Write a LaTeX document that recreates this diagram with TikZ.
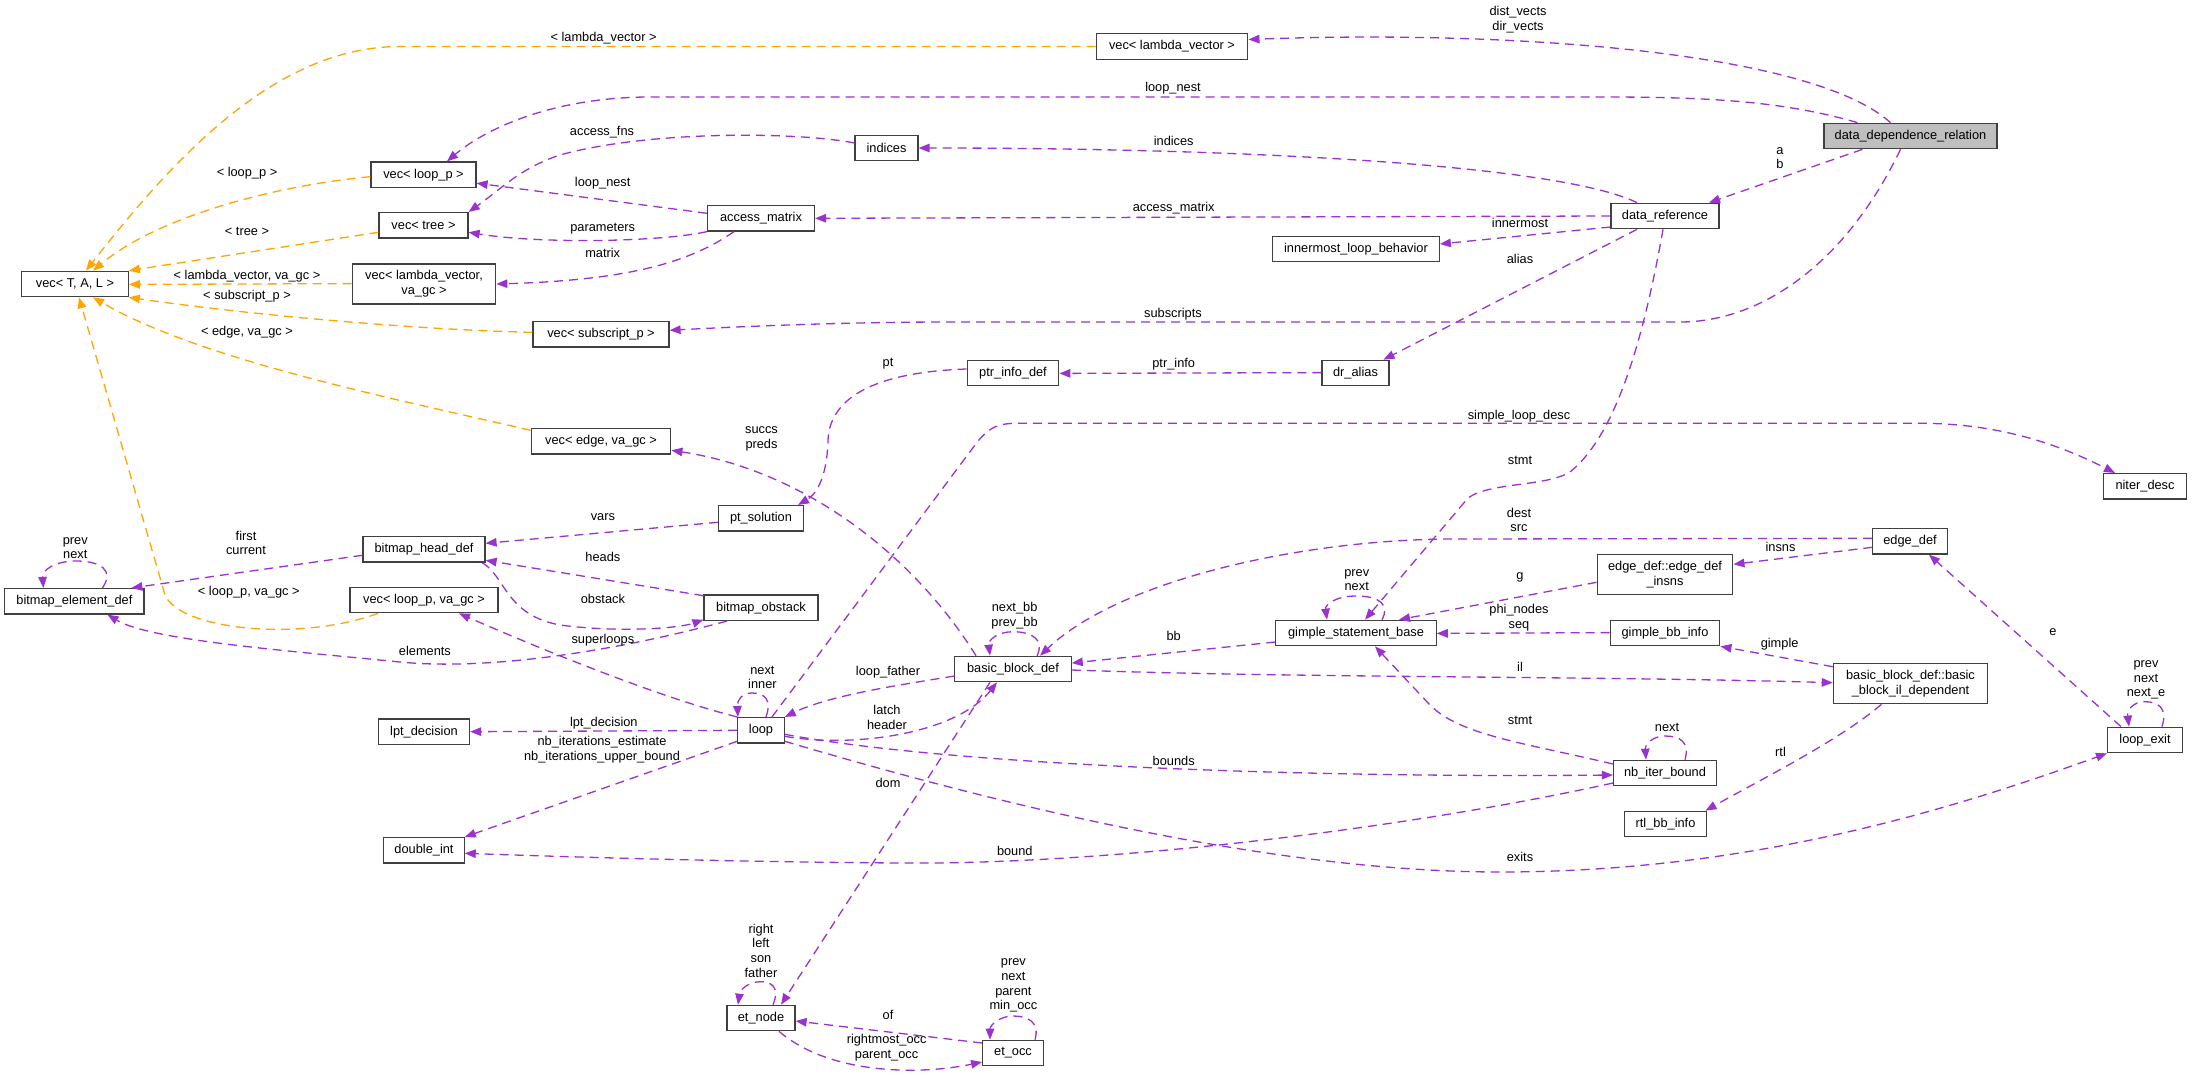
\documentclass[tikz,border=0pt]{standalone}
\usepackage{fontspec}
\setmainfont{Liberation Sans}
\usetikzlibrary{arrows.meta}
\definecolor{purp}{HTML}{9A32CD}
\definecolor{orng}{HTML}{FFA500}
\definecolor{rootgray}{HTML}{BFBFBF}
\newcommand{\gfont}{\fontsize{12.8pt}{14.7pt}\selectfont}
\begin{document}
\begin{tikzpicture}[x=1pt,y=-1pt,
 box/.style={draw=black!75,line width=1.2pt,fill=white,inner sep=0pt,minimum height=25.5pt,font=\gfont,align=center},
 box2/.style={box,minimum height=40pt},
 lab/.style={font=\gfont,inner sep=0pt,align=center},
 pe/.style={draw=purp,color=purp,line width=1.3pt,dash pattern=on 9pt off 6pt,-{Triangle[length=11pt,width=8.5pt]}},
 oe/.style={pe,draw=orng,color=orng}]
\useasboundingbox (0,0) rectangle (2192,1076);
\fill[white] (0,0) rectangle (2192,1076);

% nodes
\node[box,minimum width=106.5pt] (vtal) at (75,284) {vec< T, A, L >};
\node[box,minimum width=105pt] (vlp) at (423.5,174.7) {vec< loop\_p >};
\node[box,minimum width=89pt] (vtree) at (423.5,225.3) {vec< tree >};
\node[box2,minimum width=143.5pt] (vlvv) at (424,284) {vec< lambda\_vector,\\va\_gc >};
\node[box,minimum width=136pt] (vsub) at (601,334.3) {vec< subscript\_p >};
\node[box,minimum width=107pt] (amat) at (761,218.3) {access\_matrix};
\node[box,minimum width=151.7pt] (vlv) at (1172,46.5) {vec< lambda\_vector >};
\node[box,minimum width=63pt] (ind) at (886.5,148) {indices};
\node[box,minimum width=166.5pt] (ilb) at (1356,249) {innermost\_loop\_behavior};
\node[box,minimum width=91.7pt] (pid) at (1013,373) {ptr\_info\_def};
\node[box,minimum width=67pt] (dra) at (1355.5,373) {dr\_alias};
\node[box,fill=rootgray,minimum width=173pt] (ddr) at (1910.5,136) {data\_dependence\_relation};
\node[box,minimum width=108pt] (dref) at (1665,216) {data\_reference};
\node[box,minimum width=139.6pt] (vedge) at (601,441.3) {vec< edge, va\_gc >};
\node[box,minimum width=122pt] (bhd) at (424,549.3) {bitmap\_head\_def};
\node[box,minimum width=139.2pt] (bed) at (74.4,601.3) {bitmap\_element\_def};
\node[box,minimum width=148pt] (vlpvg) at (424,600) {vec< loop\_p, va\_gc >};
\node[box,minimum width=85pt] (pts) at (761,518.3) {pt\_solution};
\node[box,minimum width=114pt] (bob) at (761,607.7) {bitmap\_obstack};
\node[box,minimum width=116.3pt] (bbd) at (1013,669) {basic\_block\_def};
\node[box,minimum width=160.3pt] (gsb) at (1356,633) {gimple\_statement\_base};
\node[box,minimum width=46.4pt] (loop) at (761,730.3) {loop};
\node[box,minimum width=83.5pt] (nid) at (2145,486.3) {niter\_desc};
\node[box,minimum width=74.4pt] (edef) at (1910,541.3) {edge\_def};
\node[box2,minimum width=135.7pt] (edi) at (1665,574.3) {edge\_def::edge\_def\\\_insns};
\node[box,minimum width=109.7pt] (gbi) at (1665,633) {gimple\_bb\_info};
\node[box2,minimum width=154.4pt] (bbild) at (1910.5,683.7) {basic\_block\_def::basic\\\_block\_il\_dependent};
\node[box,minimum width=91pt] (lpt) at (424,731.7) {lpt\_decision};
\node[box,minimum width=80.3pt] (dint) at (424,850.3) {double\_int};
\node[box,minimum width=68pt] (etn) at (761,1018) {et\_node};
\node[box,minimum width=60.7pt] (eto) at (1013,1053) {et\_occ};
\node[box,minimum width=103pt] (nib) at (1665,773) {nb\_iter\_bound};
\node[box,minimum width=82.5pt] (rtl) at (1665.5,824) {rtl\_bb\_info};
\node[box,minimum width=74.8pt] (lex) at (2145,740) {loop\_exit};

% edges
\draw[pe] ([xshift=-20pt]ddr.north) .. controls (1810,50) and (1500,30) .. ([yshift=7pt]vlv.east);
\node[lab] (l1) at (1518,19.5) {dist\_vects\\dir\_vects};

\draw[pe] ([xshift=-53pt]ddr.north) .. controls (1780,100) and (1700,97) .. (1600,97) -- (650,97) .. controls (560,97) and (490,125) .. ([xshift=23.5pt]vlp.north);
\node[lab] (l2) at (1173,88) {loop\_nest};

\draw[pe] ([xshift=-48pt]ddr.south) -- ([xshift=44pt]dref.north);
\node[lab] (l3) at (1780,158) {a\\b};

\draw[pe] ([xshift=-10pt]ddr.south) .. controls (1845,265) and (1760,322) .. (1680,322) -- (950,322) .. controls (850,322) and (750,326) .. ([yshift=4pt]vsub.east);
\node[lab] (l4) at (1173,314.3) {subscripts};

\draw[pe] ([xshift=-28pt]dref.north) .. controls (1560,165) and (1250,148) .. (ind.east);
\node[lab] (l5) at (1173.7,140.7) {indices};

\draw[pe] (dref.west) -- (amat.east);
\node[lab] (l6) at (1173.7,207.7) {access\_matrix};

\draw[pe] ([yshift=-11pt]dref.west) -- ([yshift=5pt]ilb.east);
\node[lab] (l7) at (1520,223.3) {innermost};

\draw[pe] ([xshift=-28pt]dref.south) -- ([xshift=28pt]dra.north);
\node[lab] (l8) at (1520,258.7) {alias};

\draw[pe] ([xshift=-2pt]dref.south) .. controls (1640,360) and (1610,440) .. (1570,472) .. controls (1545,487) and (1490,482) .. (1468,498) -- ([xshift=9pt]gsb.north);
\node[lab] (l9) at (1520,460) {stmt};

\draw[pe] ([yshift=5pt]ind.west) .. controls (800,132) and (650,130) .. (560,155) .. controls (520,168) and (500,190) .. (vtree.north east);
\node[lab] (l10) at (602,131.7) {access\_fns};

\draw[pe] ([yshift=5pt]amat.west) -- ([yshift=-8.5pt]vlp.east);
\node[lab] (l11) at (602.7,183.3) {loop\_nest};

\draw[pe] (amat.south west) .. controls (660,242) and (540,244) .. ([yshift=-7pt]vtree.east);
\node[lab] (l12) at (602.7,229) {parameters};

\draw[pe] ([xshift=-27pt]amat.south) .. controls (690,262) and (630,280) .. (vlvv.east);
\node[lab] (l13) at (602.7,252.7) {matrix};

\draw[oe] (vlv.west) -- (400,46.5) .. controls (280,46.5) and (180,150) .. ([xshift=11pt]vtal.north);
\node[lab] (l14) at (603.6,38) {< lambda\_vector >};

\draw[oe] ([yshift=-2pt]vlp.west) .. controls (280,185) and (160,215) .. ([xshift=18pt]vtal.north);
\node[lab] (l15) at (247,173.3) {< loop\_p >};

\draw[oe] ([yshift=-7pt]vtree.west) -- (vtal.north east);
\node[lab] (l16) at (247,231) {< tree >};

\draw[oe] ([yshift=0.4pt]vlvv.west) -- ([yshift=-0.4pt]vtal.east);
\node[lab] (l17) at (247,276) {< lambda\_vector, va\_gc >};

\draw[oe] ([yshift=2pt]vsub.west) .. controls (420,330) and (250,315) .. (vtal.south east);
\node[lab] (l18) at (247,296) {< subscript\_p >};

\draw[oe] ([yshift=11pt]vedge.west) .. controls (400,400) and (200,360) .. ([xshift=18pt]vtal.south);
\node[lab] (l19) at (247,332.3) {< edge, va\_gc >};

\draw[oe] ([xshift=-46pt]vlpvg.south) .. controls (300,642) and (180,630) .. (165,595) -- ([xshift=4pt]vtal.south);
\node[lab] (l20) at (248.8,592.3) {< loop\_p, va\_gc >};

\draw[pe] ([yshift=4pt]pid.west) .. controls (880,372) and (830,395) .. (828,440) .. controls (827,480) and (815,495) .. ([xshift=37pt]pts.north);
\node[lab] (l21) at (888,363.3) {pt};

\draw[pe] ([yshift=0.4pt]dra.west) -- ([yshift=-0.4pt]pid.east);
\node[lab] (l22) at (1173.7,364.3) {ptr\_info};

\draw[pe] ([yshift=-4pt]pts.west) -- ([yshift=6pt]bhd.east);
\node[lab] (l23) at (602.9,516.7) {vars};

\draw[pe] ([yshift=12pt]bob.west) -- ([yshift=-11pt]bhd.east);
\node[lab] (l24) at (602.9,556.7) {heads};

\draw[pe] ([xshift=58pt]bhd.south) .. controls (505,575) and (505,615) .. (560,625) .. controls (620,633) and (680,628) .. ([yshift=-12pt]bob.west);
\node[lab] (l25) at (602.9,599) {obstack};

\draw[pe] ([yshift=-6pt]bhd.west) -- ([xshift=57pt]bed.north);
\node[lab] (l26) at (246,543) {first\\current};

\draw[pe] ([xshift=-34pt]bob.south) .. controls (600,655) and (480,670) .. (400,662) .. controls (280,650) and (150,640) .. ([xshift=33pt]bed.south);
\node[lab] (l27) at (424.9,650.7) {elements};

\draw[pe] ([xshift=28pt]bed.north) .. controls (115,570) and (100,561) .. (76,561) .. controls (55,561) and (42,570) .. ([xshift=-31pt]bed.north);
\node[lab] (l28) at (75.3,548) {prev\\next};

\draw[pe] (loop.north west) .. controls (650,695) and (520,640) .. ([xshift=35pt]vlpvg.south);
\node[lab] (l29) at (602.9,640) {superloops};

\draw[pe] ([xshift=-37pt]bbd.north) .. controls (910,550) and (800,470) .. ([yshift=-9pt]vedge.east);
\node[lab] (l30) at (761.5,439) {succs\\preds};

\draw[pe] ([xshift=11pt]loop.north) -- (975,445) .. controls (990,425) and (1000,423.3) .. (1020,423.3) -- (1920,423.3) .. controls (2000,423.3) and (2060,445) .. ([xshift=-30pt]nid.north);
\node[lab] (l31) at (1519,415.7) {simple\_loop\_desc};

\draw[pe] ([yshift=3pt]edef.west) -- (1450,539) .. controls (1300,540) and (1120,580) .. ([xshift=27pt]bbd.north);
\node[lab] (l32) at (1519,520) {dest\\src};

\draw[pe] ([yshift=-6pt]edef.west) -- ([yshift=10pt]edi.east);
\node[lab] (l33) at (1780.5,547.3) {insns};

\draw[pe] ([yshift=-8pt]edi.west) -- ([xshift=43pt]gsb.north);
\node[lab] (l34) at (1520,577.7) {g};

\draw[pe] ([yshift=0.4pt]gbi.west) -- ([yshift=-0.4pt]gsb.east);
\node[lab] (l35) at (1519,618) {phi\_nodes\\seq};

\draw[pe] ([xshift=26pt]gsb.north) .. controls (1390,605) and (1380,596) .. (1356,596) .. controls (1335,596) and (1325,605) .. ([xshift=-29pt]gsb.north);
\node[lab] (l36) at (1356.7,580) {prev\\next};

\draw[pe] ([yshift=-9pt]gsb.west) -- ([yshift=6pt]bbd.east);
\node[lab] (l37) at (1173.7,635.7) {bb};

\draw[pe] ([xshift=24pt]bbd.north) .. controls (1045,640) and (1032,631.7) .. (1013,631.7) .. controls (998,631.7) and (988,640) .. ([xshift=-23pt]bbd.north);
\node[lab] (l38) at (1014.6,616) {next\_bb\\prev\_bb};

\draw[pe] ([yshift=-7pt]bbd.west) .. controls (900,685) and (830,695) .. (loop.north east);
\node[lab] (l39) at (888,671.7) {loop\_father};

\draw[pe] ([yshift=-1pt]bbd.east) .. controls (1300,678) and (1600,676) .. ([yshift=1pt]bbild.west);
\node[lab] (l40) at (1520,666.7) {il};

\draw[pe] ([yshift=17pt]bbild.west) -- (gbi.south east);
\node[lab] (l41) at (1779.6,644) {gimple};

\draw[pe] ([xshift=-29pt]bbild.south) .. controls (1840,740) and (1760,780) .. ([xshift=40pt]rtl.north);
\node[lab] (l42) at (1780.5,752.3) {rtl};

\draw[pe] ([xshift=-24pt]lex.north) -- ([xshift=19pt]edef.south);
\node[lab] (l43) at (2053,632.3) {e};

\draw[pe] ([xshift=17pt]lex.north) .. controls (2168,708) and (2158,701.7) .. (2145,701.7) .. controls (2133,701.7) and (2127,710) .. ([xshift=-16pt]lex.north);
\node[lab] (l44) at (2146,680) {prev\\next\\next\_e};

\draw[pe] ([xshift=5pt]loop.north) .. controls (772,700) and (765,693) .. (752,693) .. controls (742,693) and (737,700) .. ([xshift=-23pt]loop.north);
\node[lab] (l45) at (762.4,677.5) {next\\inner};

\draw[pe] ([yshift=-6pt]loop.east) .. controls (850,748) and (955,735) .. ([xshift=-16pt]bbd.south);
\node[lab] (l46) at (887,717.5) {latch\\header};

\draw[pe] ([xshift=-23pt]bbd.south) -- ([xshift=20pt]etn.north);
\node[lab] (l47) at (888,783.3) {dom};

\draw[pe] ([xshift=12pt]etn.north) .. controls (780,988) and (772,981.7) .. (761,981.7) .. controls (748,981.7) and (740,990) .. ([xshift=-23pt]etn.north);
\node[lab] (l48) at (761,950.7) {right\\left\\son\\father};

\draw[pe] ([yshift=10pt]eto.west) -- ([yshift=-3pt]etn.east);
\node[lab] (l49) at (888,1015.3) {of};

\draw[pe] ([xshift=18pt]etn.south) .. controls (830,1075) and (920,1075) .. ([yshift=-9pt]eto.west);
\node[lab] (l50) at (886.6,1048) {rightmost\_occ\\parent\_occ};

\draw[pe] ([xshift=22pt]eto.north) .. controls (1040,1022) and (1028,1016) .. (1013,1016) .. controls (1000,1016) and (990,1025) .. ([xshift=-23pt]eto.north);
\node[lab] (l51) at (1013.4,985.7) {prev\\next\\parent\\min\_occ};

\draw[pe] (loop.west) -- (lpt.east);
\node[lab] (l52) at (603.8,722.7) {lpt\_decision};

\draw[pe] ([yshift=-11pt]loop.west) -- (dint.north east);
\node[lab] (l53) at (602,749.7) {nb\_iterations\_estimate\\nb\_iterations\_upper\_bound};

\draw[pe] ([yshift=-10pt]nib.west) .. controls (1400,830) and (1100,865) .. (900,863) .. controls (750,862) and (600,858) .. ([yshift=-3pt]dint.east);
\node[lab] (l54) at (1014.8,850.7) {bound};

\draw[pe] ([yshift=-4pt]loop.east) .. controls (950,765) and (1300,778) .. ([yshift=-2pt]nib.west);
\node[lab] (l55) at (1173.7,760.7) {bounds};

\draw[pe] ([yshift=9pt]nib.west) .. controls (1520,742) and (1460,735) .. (1430,705) -- ([xshift=19pt]gsb.south);
\node[lab] (l56) at (1520,720) {stmt};

\draw[pe] ([xshift=20pt]nib.north) .. controls (1690,742) and (1680,736) .. (1665,736) .. controls (1652,736) and (1645,745) .. ([xshift=-19pt]nib.north);
\node[lab] (l57) at (1667,727.7) {next};

\draw[pe] ([yshift=-11pt]loop.east) .. controls (950,790) and (1250,872) .. (1500,872) .. controls (1750,872) and (1950,810) .. (lex.south west);
\node[lab] (l58) at (1520,856.7) {exits};
\end{tikzpicture}
\end{document}
